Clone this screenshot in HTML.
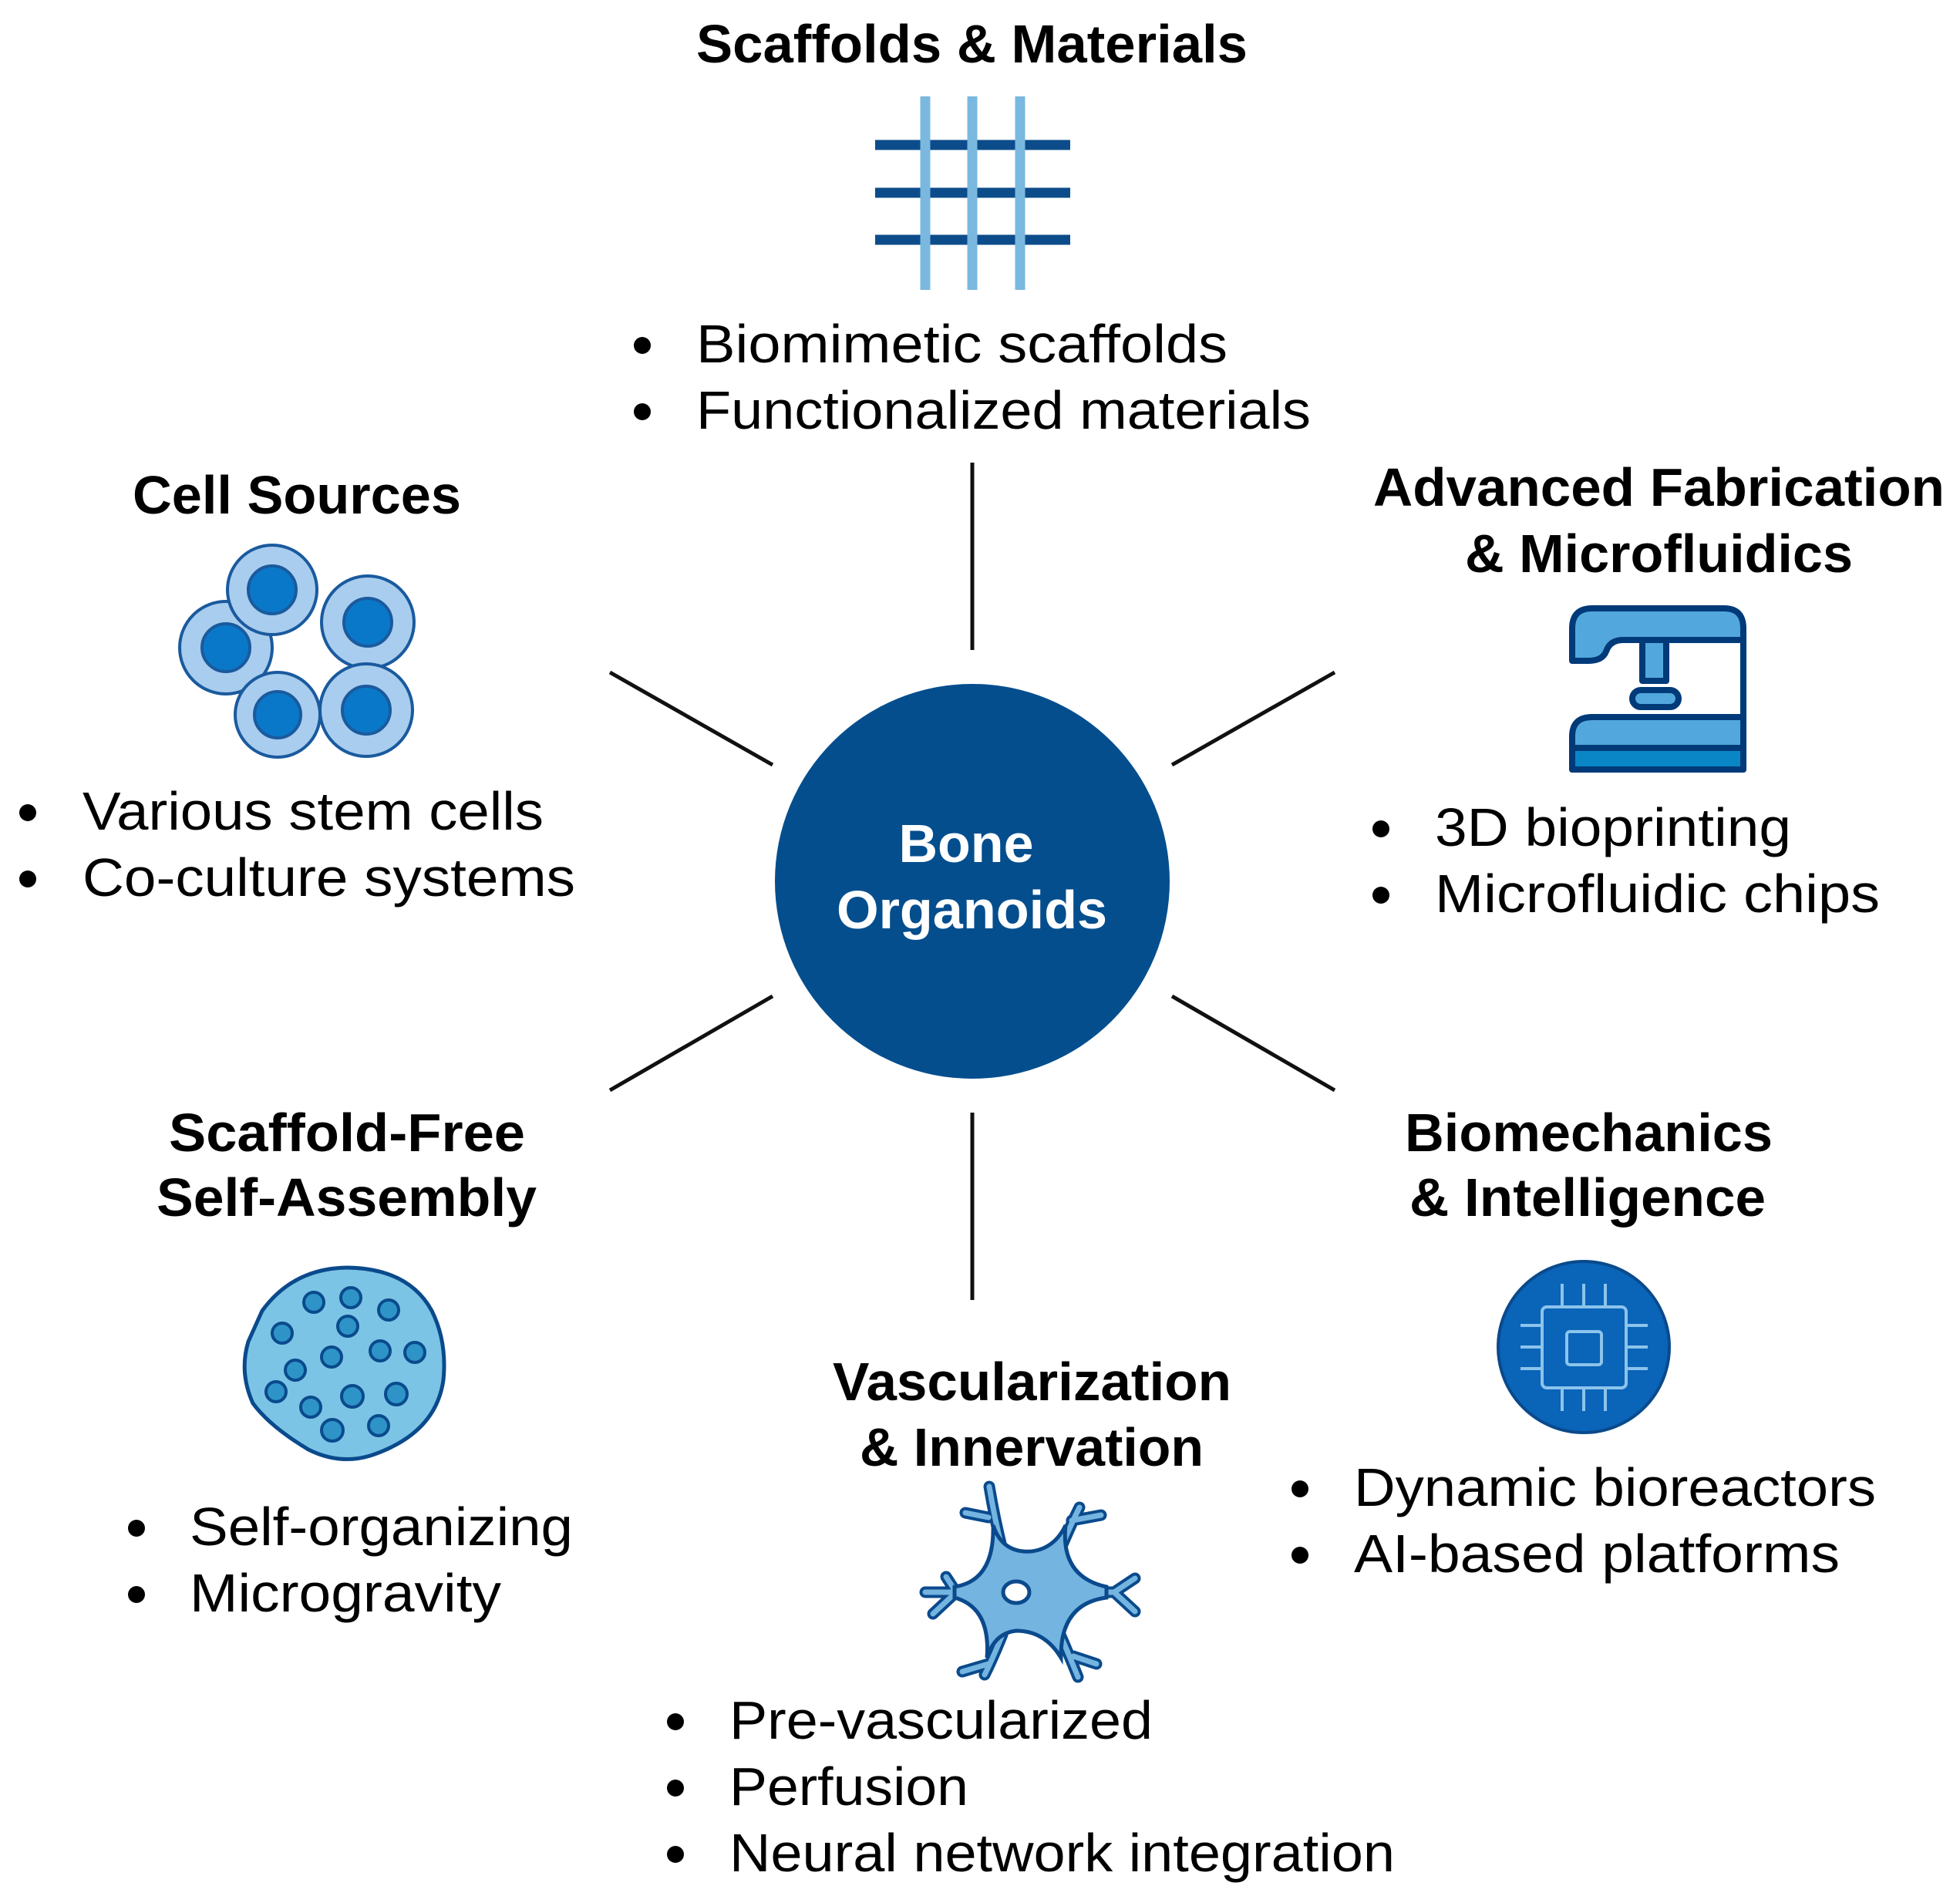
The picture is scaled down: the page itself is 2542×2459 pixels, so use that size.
<!DOCTYPE html>
<html><head><meta charset="utf-8"><style>
html,body{margin:0;padding:0;background:#fff}
svg{display:block}
text{font-family:"Liberation Sans",Arial,sans-serif}
.t{font-weight:bold;font-size:70px;fill:#000}
.b{font-size:70px;fill:#000}
</style></head><body>
<svg width="2542" height="2459" viewBox="0 0 2542 2459" xmlns="http://www.w3.org/2000/svg">
<rect width="2542" height="2459" fill="#fff"/>
<g stroke="#111" stroke-width="5">
<line x1="1261" y1="600" x2="1261" y2="843"/>
<line x1="1261" y1="1443" x2="1261" y2="1686"/>
<line x1="791" y1="872" x2="1002" y2="992"/>
<line x1="1520" y1="992" x2="1731" y2="872"/>
<line x1="1002" y1="1292" x2="791" y2="1414"/>
<line x1="1520" y1="1292" x2="1731" y2="1414"/>
</g>
<circle cx="1261" cy="1143" r="256" fill="#044e8e"/>
<text x="1253" y="1118" class="t" style="fill:#fff" text-anchor="middle">Bone</text>
<text x="1085" y="1204" class="t" style="fill:#fff" textLength="351" lengthAdjust="spacingAndGlyphs">Organoids</text>

<text x="903" y="81" class="t" textLength="715" lengthAdjust="spacingAndGlyphs">Scaffolds &amp; Materials</text>
<g stroke-width="13">
<line x1="1135" y1="188" x2="1388" y2="188" stroke="#0c4c8a"/>
<line x1="1135" y1="250" x2="1388" y2="250" stroke="#0c4c8a"/>
<line x1="1135" y1="311" x2="1388" y2="311" stroke="#0c4c8a"/>
<line x1="1200" y1="125" x2="1200" y2="376" stroke="#7ab8e0"/>
<line x1="1261" y1="125" x2="1261" y2="376" stroke="#7ab8e0"/>
<line x1="1323" y1="125" x2="1323" y2="376" stroke="#7ab8e0"/>
</g>
<circle cx="833" cy="448" r="11"/><text x="903" y="470" class="b" textLength="689" lengthAdjust="spacingAndGlyphs">Biomimetic scaffolds</text>
<circle cx="833" cy="534" r="11"/><text x="903" y="556" class="b" textLength="797" lengthAdjust="spacingAndGlyphs">Functionalized materials</text>

<text x="172" y="666" class="t" textLength="426" lengthAdjust="spacingAndGlyphs">Cell Sources</text>
<g stroke="#1a5a9e" stroke-width="4">
<circle cx="293" cy="840" r="60" fill="#a9cdee"/><circle cx="293" cy="840" r="31" fill="#0a78c8"/>
<circle cx="353" cy="765" r="58" fill="#a9cdee"/><circle cx="353" cy="765" r="31" fill="#0a78c8"/>
<circle cx="477" cy="807" r="60" fill="#a9cdee"/><circle cx="477" cy="807" r="31" fill="#0a78c8"/>
<circle cx="360" cy="927" r="55" fill="#a9cdee"/><circle cx="360" cy="927" r="30" fill="#0a78c8"/>
<circle cx="475" cy="921" r="60" fill="#a9cdee"/><circle cx="475" cy="921" r="31" fill="#0a78c8"/>
</g>
<circle cx="36" cy="1054" r="11"/><text x="107" y="1076" class="b" textLength="598" lengthAdjust="spacingAndGlyphs">Various stem cells</text>
<circle cx="36" cy="1140" r="11"/><text x="107" y="1162" class="b" textLength="639" lengthAdjust="spacingAndGlyphs">Co-culture systems</text>

<text x="1781" y="656" class="t" textLength="741" lengthAdjust="spacingAndGlyphs">Advanced Fabrication</text>
<text x="1900" y="742" class="t" textLength="503" lengthAdjust="spacingAndGlyphs">&amp; Microfluidics</text>
<g stroke="#003a78" stroke-width="8" stroke-linejoin="round">
<path d="M2039,857 V815 Q2039,789 2065,789 H2236 Q2261,789 2261,815 V830 H2105 Q2088,830 2083,845 Q2078,857 2060,857 Z" fill="#52a8dc"/>
<line x1="2261" y1="815" x2="2261" y2="998"/>
<rect x="2130" y="830" width="31" height="53" fill="#52a8dc"/>
<rect x="2117" y="895" width="60" height="22" rx="11" fill="#52a8dc"/>
<path d="M2039,998 V955 Q2039,930 2065,930 H2261 V998 Z" fill="#52a8dc"/>
<path d="M2039,970 H2261 V998 H2039 Z" fill="#0a86c6"/>
</g>
<circle cx="1791" cy="1075" r="11"/><text x="1861" y="1097" class="b" textLength="462" lengthAdjust="spacingAndGlyphs">3D bioprinting</text>
<circle cx="1791" cy="1161" r="11"/><text x="1861" y="1183" class="b" textLength="577" lengthAdjust="spacingAndGlyphs">Microfluidic chips</text>

<text x="219" y="1493" class="t" textLength="462" lengthAdjust="spacingAndGlyphs">Scaffold-Free</text>
<text x="203" y="1577" class="t" textLength="493" lengthAdjust="spacingAndGlyphs">Self-Assembly</text>
<path d="M340,1700 Q380,1645 450,1644 Q530,1645 560,1700 Q580,1740 575,1790 Q565,1860 480,1888 Q440,1900 400,1880 Q350,1850 328,1820 Q310,1780 322,1740 Z" fill="#7cc4e6" stroke="#0a4a8c" stroke-width="5"/>
<g fill="#2e94c8" stroke="#0a4a8c" stroke-width="4">
<circle cx="407" cy="1689" r="13"/><circle cx="455" cy="1683" r="13"/><circle cx="504" cy="1699" r="13"/>
<circle cx="366" cy="1729" r="13"/><circle cx="451" cy="1720" r="13"/><circle cx="430" cy="1760" r="13"/>
<circle cx="493" cy="1752" r="13"/><circle cx="538" cy="1754" r="13"/><circle cx="383" cy="1777" r="13"/>
<circle cx="358" cy="1805" r="13"/><circle cx="457" cy="1811" r="14"/><circle cx="514" cy="1808" r="14"/>
<circle cx="403" cy="1825" r="13"/><circle cx="431" cy="1855" r="14"/><circle cx="491" cy="1849" r="13"/>
</g>
<circle cx="177" cy="1982" r="11"/><text x="246" y="2004" class="b" textLength="497" lengthAdjust="spacingAndGlyphs">Self-organizing</text>
<circle cx="177" cy="2068" r="11"/><text x="246" y="2090" class="b" textLength="404" lengthAdjust="spacingAndGlyphs">Microgravity</text>

<text x="1080" y="1816" class="t" textLength="517" lengthAdjust="spacingAndGlyphs">Vascularization</text>
<text x="1115" y="1901" class="t" textLength="446" lengthAdjust="spacingAndGlyphs">&amp; Innervation</text>
<g fill="none" stroke-linecap="round" stroke-linejoin="round">
<g stroke="#0a4a8c" stroke-width="15">
<path d="M1300,2010 Q1290,1970 1283,1928 M1282,1968 L1252,1962 M1375,2010 Q1390,1975 1400,1955 M1390,1972 L1428,1965 M1260,2065 H1200 M1240,2065 L1227,2045 M1240,2065 L1210,2093 M1380,2065 H1445 M1445,2065 L1472,2047 M1445,2065 L1472,2090 M1300,2120 Q1288,2150 1277,2172 M1282,2158 L1248,2168 M1375,2120 Q1388,2150 1398,2175 M1392,2148 L1422,2158"/>
</g>
<g stroke="#74b4e0" stroke-width="7">
<path d="M1300,2010 Q1290,1970 1283,1928 M1282,1968 L1252,1962 M1375,2010 Q1390,1975 1400,1955 M1390,1972 L1428,1965 M1260,2065 H1200 M1240,2065 L1227,2045 M1240,2065 L1210,2093 M1380,2065 H1445 M1445,2065 L1472,2047 M1445,2065 L1472,2090 M1300,2120 Q1288,2150 1277,2172 M1282,2158 L1248,2168 M1375,2120 Q1388,2150 1398,2175 M1392,2148 L1422,2158"/>
</g>
</g>
<path d="M1288,1978 Q1300,2015 1338,2012 Q1368,2008 1382,1978 Q1375,2045 1435,2058 L1435,2072 Q1375,2080 1376,2150 Q1355,2115 1318,2115 Q1290,2118 1280,2150 Q1285,2085 1238,2072 L1238,2058 Q1290,2050 1288,1978 Z" fill="#74b4e0" stroke="#0a4a8c" stroke-width="5"/>
<ellipse cx="1318" cy="2065" rx="17" ry="14" fill="#fff" stroke="#0a4a8c" stroke-width="5"/>
<circle cx="876" cy="2233" r="11"/><text x="946" y="2255" class="b" textLength="549" lengthAdjust="spacingAndGlyphs">Pre-vascularized</text>
<circle cx="876" cy="2319" r="11"/><text x="946" y="2341" class="b" textLength="310" lengthAdjust="spacingAndGlyphs">Perfusion</text>
<circle cx="876" cy="2405" r="11"/><text x="946" y="2427" class="b" textLength="863" lengthAdjust="spacingAndGlyphs">Neural network integration</text>

<text x="1822" y="1493" class="t" textLength="477" lengthAdjust="spacingAndGlyphs">Biomechanics</text>
<text x="1828" y="1577" class="t" textLength="462" lengthAdjust="spacingAndGlyphs">&amp; Intelligence</text>
<circle cx="2054" cy="1747" r="111" fill="#0a64b8" stroke="#0a4a8c" stroke-width="4"/>
<g stroke="#8cc4ec" stroke-width="4" fill="none">
<rect x="2000" y="1695" width="109" height="105" rx="6"/>
<rect x="2032" y="1727" width="45" height="43" rx="4"/>
<path d="M2026,1665 V1695 M2054,1665 V1695 M2082,1665 V1695 M2026,1800 V1830 M2054,1800 V1830 M2082,1800 V1830 M1972,1719 H2000 M1972,1747 H2000 M1972,1775 H2000 M2109,1719 H2137 M2109,1747 H2137 M2109,1775 H2137"/>
</g>
<circle cx="1686" cy="1931" r="11"/><text x="1756" y="1953" class="b" textLength="677" lengthAdjust="spacingAndGlyphs">Dynamic bioreactors</text>
<circle cx="1686" cy="2017" r="11"/><text x="1756" y="2039" class="b" textLength="630" lengthAdjust="spacingAndGlyphs">AI-based platforms</text>
</svg>
</body></html>
